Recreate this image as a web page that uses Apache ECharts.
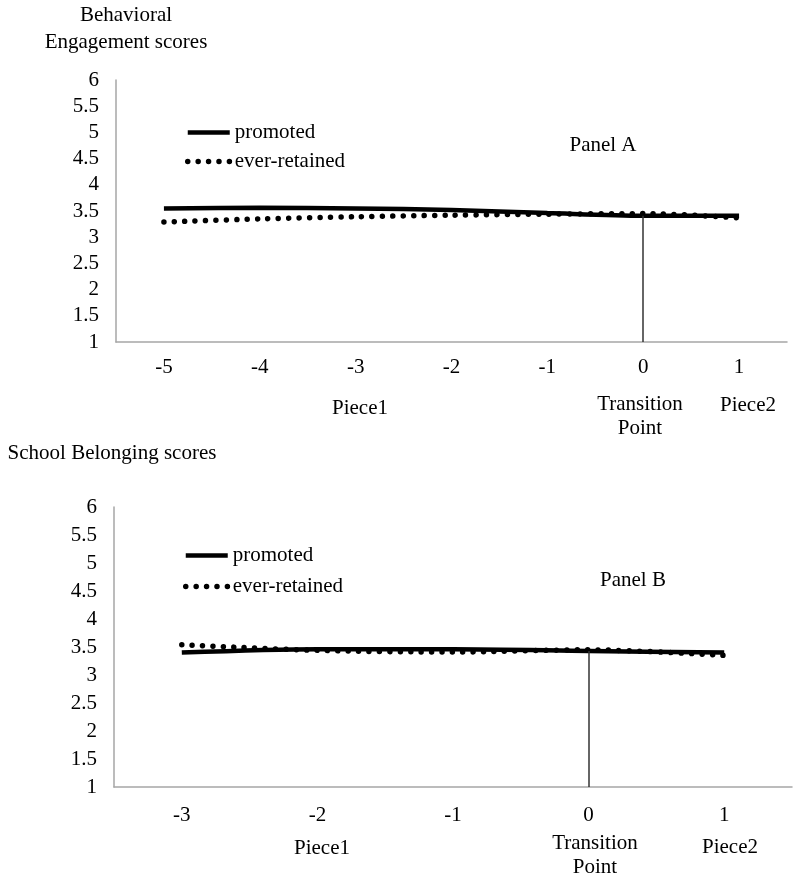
<!DOCTYPE html>
<html>
<head>
<meta charset="utf-8">
<script src="https://cdn.jsdelivr.net/npm/echarts@6/dist/echarts.min.js"></script>
<style>
html, body { margin: 0; padding: 0; background: #fff; }
#main { width: 800px; height: 883px; }
</style>
</head>
<body>
<div id="main"></div>
<script>
// Panel A - behavioral engagement
const catA = ['-5', '-4', '-3', '-2', '-1', '0', '1']
const promotedA = [3.55, 3.56, 3.55, 3.52, 3.46, 3.41, 3.41]
const retainedA = [3.29, 3.35, 3.39, 3.42, 3.44, 3.45, 3.37]
// Panel B - school belonging
const catB = ['-3', '-2', '-1', '0', '1']
const promotedB = [3.40, 3.46, 3.46, 3.43, 3.40]
const retainedB = [3.54, 3.44, 3.41, 3.45, 3.35]
// y axis range
const yMin = 1
const yMax = 6
const yStep = 0.5

const font = 'Liberation Serif'
const fs = 21
const axisGrey = '#a6a6a6'
const solidStyle = { color: '#000', width: 4.5 }
const dotStyle = { color: '#000', width: 5.5, type: [0.01, 10.4], cap: 'round' }

function xAxisOpt (idx, cats, margin) {
  return {
    type: 'category',
    gridIndex: idx,
    data: cats,
    boundaryGap: true,
    axisTick: { show: false },
    axisLine: { lineStyle: { color: axisGrey, width: 1.5 } },
    axisLabel: { color: '#000', fontSize: fs, fontFamily: font, margin: margin },
    splitLine: { show: false }
  }
}
function yAxisOpt (idx) {
  return {
    type: 'value',
    gridIndex: idx,
    min: yMin,
    max: yMax,
    interval: yStep,
    axisTick: { show: false },
    axisLine: { show: true, lineStyle: { color: axisGrey, width: 1.5 } },
    axisLabel: { color: '#000', fontSize: fs, fontFamily: font, margin: 17 },
    splitLine: { show: false }
  }
}
function solid (name, idx, data, markVal, cat0) {
  return {
    name: name,
    type: 'line',
    xAxisIndex: idx,
    yAxisIndex: idx,
    data: data,
    smooth: 0.3,
    symbol: 'none',
    color: '#000',
    lineStyle: solidStyle,
    z: 3,
    markLine: {
      silent: true,
      symbol: 'none',
      label: { show: false },
      lineStyle: { color: '#333', width: 1.5, type: 'solid' },
      data: [[{ coord: [cat0, markVal] }, { coord: [cat0, yMin] }]]
    }
  }
}
function dotted (name, idx, data) {
  return {
    name: name,
    type: 'line',
    xAxisIndex: idx,
    yAxisIndex: idx,
    data: data,
    smooth: 0.3,
    symbol: 'none',
    color: '#000',
    lineStyle: dotStyle,
    z: 4
  }
}
function legendOpt (left, top, gap) {
  return {
    left: left,
    top: top,
    orient: 'vertical',
    itemWidth: 42,
    itemHeight: 12,
    itemGap: gap,
    selectedMode: false,
    itemStyle: { opacity: 0 },
    textStyle: { color: '#000', fontSize: fs, fontFamily: font },
    data: [
      { name: 'promoted', lineStyle: solidStyle },
      { name: 'ever-retained', lineStyle: dotStyle }
    ]
  }
}
// text centred at (x, y)
function txt (x, y, s) {
  return {
    type: 'text',
    x: x,
    y: y,
    style: {
      text: s,
      fill: '#000',
      font: fs + 'px "Liberation Serif"',
      align: 'center',
      verticalAlign: 'middle',
      lineHeight: 24
    }
  }
}

const chart = echarts.init(document.getElementById('main'))
chart.setOption({
  animation: false,
  grid: [
    { left: 116, right: 13, top: 80, height: 262 },
    { left: 114, right: 8, top: 507, height: 280 }
  ],
  xAxis: [xAxisOpt(0, catA, 15), xAxisOpt(1, catB, 18)],
  yAxis: [yAxisOpt(0), yAxisOpt(1)],
  legend: [legendOpt(180, 117, 8), legendOpt(178, 540, 10)],
  graphic: [
    txt(126, 15, 'Behavioral'),
    txt(126, 42, 'Engagement scores'),
    txt(112, 453, 'School Belonging scores'),
    txt(603, 145, 'Panel A'),
    txt(633, 580, 'Panel B'),
    txt(360, 408, 'Piece1'),
    txt(640, 416, 'Transition\nPoint'),
    txt(748, 405, 'Piece2'),
    txt(322, 848, 'Piece1'),
    txt(595, 855, 'Transition\nPoint'),
    txt(730, 847, 'Piece2')
  ],
  series: [
    solid('promoted', 0, promotedA, promotedA[5], '0'),
    dotted('ever-retained', 0, retainedA),
    solid('promoted', 1, promotedB, promotedB[3], '0'),
    dotted('ever-retained', 1, retainedB)
  ]
})
</script>
</body>
</html>
